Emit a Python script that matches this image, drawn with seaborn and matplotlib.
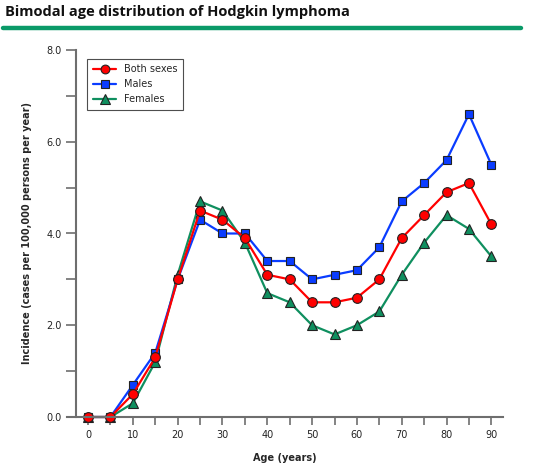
import matplotlib

matplotlib.use("Agg")

import matplotlib.pyplot as plt
import numpy as np
import pandas as pd
import seaborn as sns

# ── Data ───────────────────────────────────────────────────────────────────────
AGES = [0, 5, 10, 15, 20, 25, 30, 35, 40, 45, 50, 55, 60, 65, 70, 75, 80, 85, 90]
BOTH = [0.0, 0.0, 0.5, 1.3, 3.0, 4.5, 4.3, 3.9, 3.1, 3.0, 2.5, 2.5, 2.6, 3.0, 3.9, 4.4, 4.9, 5.1, 4.2]
MALES = [0.0, 0.0, 0.7, 1.4, 3.0, 4.3, 4.0, 4.0, 3.4, 3.4, 3.0, 3.1, 3.2, 3.7, 4.7, 5.1, 5.6, 6.6, 5.5]
FEMALES = [0.0, 0.0, 0.3, 1.2, 3.1, 4.7, 4.5, 3.8, 2.7, 2.5, 2.0, 1.8, 2.0, 2.3, 3.1, 3.8, 4.4, 4.1, 3.5]
SERIES = ["Both sexes", "Males", "Females"]

COLORS = {"Both sexes": "#ff0000", "Males": "#0a3cff", "Females": "#0f8f5f"}
MARKERS = {"Both sexes": "o", "Males": "s", "Females": "^"}
SIZES = {"Both sexes": 7, "Males": 6, "Females": 7.5}
GREY = "#6e6e6e"

df = pd.concat([
    pd.DataFrame({"age": AGES, "rate": vals, "group": name})
    for name, vals in zip(SERIES, [BOTH, MALES, FEMALES])
])

sns.set_style("white")
plt.rcParams["font.family"] = ["DejaVu Sans"]

fig = plt.figure(figsize=(5.34, 4.69), dpi=100)
W, H = 534, 469
ax = fig.add_axes([67 / W, 1 - 417 / H, (503 - 67) / W, (417 - 50) / H])

# draw order: females, males, both on top
for name in ["Females", "Males", "Both sexes"]:
    sub = df[df["group"] == name]
    sns.lineplot(data=sub, x="age", y="rate", ax=ax, color=COLORS[name],
                 marker=MARKERS[name], markersize=SIZES[name], markeredgecolor="#222222",
                 markeredgewidth=0.8, linewidth=1.6, label=name, clip_on=False)

ax.set_xlim(-4.7, 92.6)
ax.set_ylim(0, 8)
ax.set_xticks(np.arange(0, 95, 5), minor=True)
ax.set_xticks(np.arange(0, 95, 10))
ax.set_yticks(np.arange(0, 8.5, 1), minor=True)
ax.set_yticks(np.arange(0, 8.5, 2))
ax.set_yticklabels([f"{v:.1f}" for v in np.arange(0, 8.5, 2)])

for side in ["top", "right"]:
    ax.spines[side].set_visible(False)
ax.spines["left"].set_position(("data", -2.7))
for side in ["left", "bottom"]:
    ax.spines[side].set_color(GREY)
    ax.spines[side].set_linewidth(1.5)

ax.tick_params(axis="both", which="both", direction="out", color=GREY, width=1.2,
               labelsize=7, labelcolor="#222222")
ax.tick_params(axis="x", which="both", length=6, bottom=True)
ax.tick_params(axis="y", which="both", length=7, left=True)

ax.set_xlabel("Age (years)", fontsize=7, fontweight="bold", labelpad=9)
ax.set_ylabel("Incidence (cases per 100,000 persons per year)", fontsize=7,
              fontweight="bold", labelpad=10)

handles, labels = ax.get_legend_handles_labels()
order = [labels.index(s) for s in SERIES]
leg = ax.legend([handles[i] for i in order], [labels[i] for i in order],
                loc="upper left", bbox_to_anchor=(0.035, 0.99), fontsize=7,
                frameon=True, fancybox=False, edgecolor="#222222", handlelength=2.4,
                borderpad=0.6, labelspacing=0.5, markerscale=0.9)
leg.get_frame().set_linewidth(0.8)

# ── Header ─────────────────────────────────────────────────────────────────────
fig.text(5 / W, 1 - 12 / H, "Bimodal age distribution of Hodgkin lymphoma",
         fontsize=10.5, fontweight="bold", family=["Open Sans", "DejaVu Sans"],
         color="#111111", va="center", ha="left")
fig.add_artist(plt.Line2D([3 / W, 521 / W], [1 - 28 / H, 1 - 28 / H],
                          color="#0a9a68", linewidth=3.2, transform=fig.transFigure))

fig.savefig("out.png", dpi=100)
